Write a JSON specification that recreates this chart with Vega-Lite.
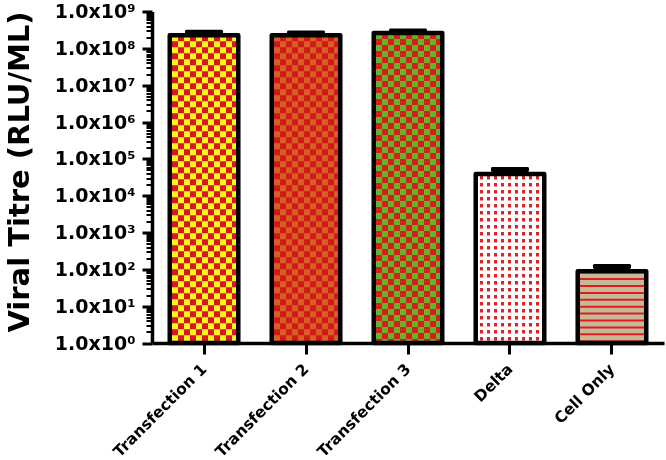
{
  "$schema": "https://vega.github.io/schema/vega-lite/v6.json",
  "width": 512,
  "height": 331.5,
  "autosize": "none",
  "padding": {"left": 152, "top": 11.5, "right": 2, "bottom": 117},
  "background": "white",
  "config": {
    "view": {"stroke": null},
    "font": "DejaVu Sans"
  },
  "data": {
    "values": [
      {"cat": "Transfection 1", "value": 227000000, "upper": 275000000},
      {"cat": "Transfection 2", "value": 225000000, "upper": 260000000},
      {"cat": "Transfection 3", "value": 260000000, "upper": 295000000},
      {"cat": "Delta", "value": 39000, "upper": 51000},
      {"cat": "Cell Only", "value": 89, "upper": 119}
    ]
  },
  "encoding": {
    "x": {
      "field": "cat", "type": "nominal", "sort": null,
      "scale": {"domain": ["Transfection 1", "Transfection 2", "Transfection 3", "Delta", "Cell Only"], "paddingInner": 0.328, "paddingOuter": 0.174},
      "axis": {
        "title": null, "labelAngle": -45, "labelAlign": "right", "labelBaseline": "middle",
        "labelFont": "DejaVu Sans", "labelFontWeight": "bold", "labelFontSize": 15.5, "labelColor": "black",
        "labelPadding": 12, "tickSize": 11, "tickWidth": 3, "tickColor": "black",
        "domainWidth": 3.5, "domainColor": "black", "grid": false
      }
    },
    "y": {
      "field": "value", "type": "quantitative", "title": "Viral Titre (RLU/ML)",
      "scale": {"type": "log", "domain": [1, 1000000000], "nice": false},
      "axis": {
        "values": [1,2,3,4,5,6,7,8,9,10,20,30,40,50,60,70,80,90,100,200,300,400,500,600,700,800,900,1000,2000,3000,4000,5000,6000,7000,8000,9000,10000,20000,30000,40000,50000,60000,70000,80000,90000,100000,200000,300000,400000,500000,600000,700000,800000,900000,1000000,2000000,3000000,4000000,5000000,6000000,7000000,8000000,9000000,10000000,20000000,30000000,40000000,50000000,60000000,70000000,80000000,90000000,100000000,200000000,300000000,400000000,500000000,600000000,700000000,800000000,900000000,1000000000],
        "labelExpr": "abs(log(datum.value)/LN10 - round(log(datum.value)/LN10)) < 0.001 ? '1.0x10' + ['⁰','¹','²','³','⁴','⁵','⁶','⁷','⁸','⁹'][round(log(datum.value)/LN10)] : ''",
        "tickSize": {"condition": {"test": "abs(log(datum.value)/LN10 - round(log(datum.value)/LN10)) < 0.001", "value": 10}, "value": 6},
        "tickWidth": {"condition": {"test": "abs(log(datum.value)/LN10 - round(log(datum.value)/LN10)) < 0.001", "value": 3}, "value": 2},
        "tickColor": "black", "domainColor": "black", "domainWidth": 3.5, "grid": false,
        "labelFont": "DejaVu Sans", "labelFontWeight": "bold", "labelFontSize": 19, "labelColor": "black",
        "labelPadding": 7, "labelOverlap": false, "labelBound": false, "labelFlush": false,
        "titleFont": "DejaVu Sans", "titleFontWeight": "bold", "titleFontSize": 29, "titleColor": "black",
        "titleAngle": 270, "titleAlign": "center", "titleBaseline": "middle", "titleX": -133, "titleY": 160
      }
    }
  },
  "layer": [
    {
      "transform": [{"filter": {"field": "cat", "oneOf": ["Transfection 1", "Transfection 2", "Transfection 3"]}}],
      "mark": {"type": "bar", "fill": "black"},
      "encoding": {"y2": {"datum": 1}}
    },
    {
      "transform": [{"filter": {"field": "cat", "equal": "Delta"}}],
      "mark": {"type": "bar", "fill": "white"},
      "encoding": {"y2": {"datum": 1}}
    },
    {
      "transform": [{"filter": {"field": "cat", "equal": "Cell Only"}}],
      "mark": {"type": "bar", "fill": "rgb(200,184,154)"},
      "encoding": {"y2": {"datum": 1}}
    },
    {
      "transform": [{"filter": {"field": "cat", "oneOf": ["Transfection 1", "Transfection 2", "Transfection 3"]}}],
      "mark": {"type": "rule", "stroke": "white", "strokeWidth": 70, "strokeDash": [6, 6], "strokeCap": "butt"},
      "encoding": {"y2": {"datum": 1}}
    },
    {
      "transform": [{"filter": {"field": "cat", "equal": "Delta"}}],
      "mark": {"type": "rule", "stroke": "rgb(225,35,35)", "strokeWidth": 70, "strokeDash": [3.5, 3.5], "strokeDashOffset": -2, "strokeCap": "butt"},
      "encoding": {"y2": {"datum": 1}}
    },
    {
      "transform": [{"filter": {"field": "cat", "equal": "Cell Only"}}],
      "mark": {"type": "rule", "stroke": "rgb(222,30,30)", "strokeWidth": 70, "strokeDash": [2, 4.9], "strokeCap": "butt"},
      "encoding": {"y2": {"datum": 1}}
    },
    {
      "transform": [{"filter": {"field": "cat", "oneOf": ["Transfection 1", "Transfection 2", "Transfection 3"]}}],
      "mark": {
        "type": "bar", "blend": "difference",
        "fill": {"gradient": "linear", "x1": 0, "y1": 0, "x2": 1, "y2": 0, "stops": [
          {"offset": 0, "color": "white"}, {"offset": 0.0328, "color": "white"},
          {"offset": 0.0328, "color": "black"}, {"offset": 0.1204, "color": "black"},
          {"offset": 0.1204, "color": "white"}, {"offset": 0.208, "color": "white"},
          {"offset": 0.208, "color": "black"}, {"offset": 0.2956, "color": "black"},
          {"offset": 0.2956, "color": "white"}, {"offset": 0.3832, "color": "white"},
          {"offset": 0.3832, "color": "black"}, {"offset": 0.4708, "color": "black"},
          {"offset": 0.4708, "color": "white"}, {"offset": 0.5584, "color": "white"},
          {"offset": 0.5584, "color": "black"}, {"offset": 0.646, "color": "black"},
          {"offset": 0.646, "color": "white"}, {"offset": 0.7336, "color": "white"},
          {"offset": 0.7336, "color": "black"}, {"offset": 0.8212, "color": "black"},
          {"offset": 0.8212, "color": "white"}, {"offset": 0.9088, "color": "white"},
          {"offset": 0.9088, "color": "black"}, {"offset": 0.9964, "color": "black"},
          {"offset": 0.9964, "color": "white"}, {"offset": 1, "color": "white"}
        ]}
      },
      "encoding": {"y2": {"datum": 1}}
    },
    {
      "transform": [{"filter": {"field": "cat", "equal": "Delta"}}],
      "mark": {
        "type": "bar", "blend": "lighten",
        "fill": {"gradient": "linear", "x1": 0, "y1": 0, "x2": 1, "y2": 0, "stops": [
          {"offset": 0, "color": "white"}, {"offset": 0.06, "color": "white"},
          {"offset": 0.06, "color": "black"}, {"offset": 0.11, "color": "black"},
          {"offset": 0.11, "color": "white"}, {"offset": 0.1622, "color": "white"},
          {"offset": 0.1622, "color": "black"}, {"offset": 0.2122, "color": "black"},
          {"offset": 0.2122, "color": "white"}, {"offset": 0.2644, "color": "white"},
          {"offset": 0.2644, "color": "black"}, {"offset": 0.3144, "color": "black"},
          {"offset": 0.3144, "color": "white"}, {"offset": 0.3666, "color": "white"},
          {"offset": 0.3666, "color": "black"}, {"offset": 0.4166, "color": "black"},
          {"offset": 0.4166, "color": "white"}, {"offset": 0.4688, "color": "white"},
          {"offset": 0.4688, "color": "black"}, {"offset": 0.5188, "color": "black"},
          {"offset": 0.5188, "color": "white"}, {"offset": 0.571, "color": "white"},
          {"offset": 0.571, "color": "black"}, {"offset": 0.621, "color": "black"},
          {"offset": 0.621, "color": "white"}, {"offset": 0.6732, "color": "white"},
          {"offset": 0.6732, "color": "black"}, {"offset": 0.7232, "color": "black"},
          {"offset": 0.7232, "color": "white"}, {"offset": 0.7754, "color": "white"},
          {"offset": 0.7754, "color": "black"}, {"offset": 0.8254, "color": "black"},
          {"offset": 0.8254, "color": "white"}, {"offset": 0.8776, "color": "white"},
          {"offset": 0.8776, "color": "black"}, {"offset": 0.9276, "color": "black"},
          {"offset": 0.9276, "color": "white"}, {"offset": 1, "color": "white"}
        ]}
      },
      "encoding": {"y2": {"datum": 1}}
    },
    {
      "transform": [{"filter": {"field": "cat", "equal": "Transfection 3"}}],
      "mark": {"type": "bar", "blend": "difference", "fill": "rgb(255,0,0)"},
      "encoding": {"y2": {"datum": 1}}
    },
    {
      "transform": [{"filter": {"field": "cat", "oneOf": ["Transfection 1", "Transfection 2", "Transfection 3"]}}],
      "mark": {"type": "bar", "blend": "multiply"},
      "encoding": {
        "y2": {"datum": 1},
        "fill": {"condition": [
          {"test": "datum.cat === 'Transfection 1'", "value": "rgb(223,244,0)"},
          {"test": "datum.cat === 'Transfection 2'", "value": "rgb(28,78,11)"}
        ], "value": "rgb(189,170,11)"}
      }
    },
    {
      "transform": [{"filter": {"field": "cat", "oneOf": ["Transfection 1", "Transfection 2", "Transfection 3"]}}],
      "mark": {"type": "bar", "blend": "screen"},
      "encoding": {
        "y2": {"datum": 1},
        "fill": {"condition": [
          {"test": "datum.cat === 'Transfection 1'", "value": "rgb(215,25,30)"},
          {"test": "datum.cat === 'Transfection 2'", "value": "rgb(210,25,25)"}
        ], "value": "rgb(100,30,30)"}
      }
    },
    {
      "mark": {"type": "bar", "fillOpacity": 0, "fill": "white", "stroke": "black", "strokeWidth": 4.5, "strokeJoin": "round"},
      "encoding": {"y2": {"datum": 1}}
    },
    {
      "mark": {"type": "rule", "stroke": "black", "strokeWidth": 4},
      "encoding": {"y2": {"field": "upper"}}
    },
    {
      "mark": {"type": "tick", "color": "black", "size": 38, "thickness": 5, "cornerRadius": 1.5, "opacity": 1},
      "encoding": {"y": {"field": "upper", "type": "quantitative", "title": "Viral Titre (RLU/ML)"}}
    }
  ]
}
